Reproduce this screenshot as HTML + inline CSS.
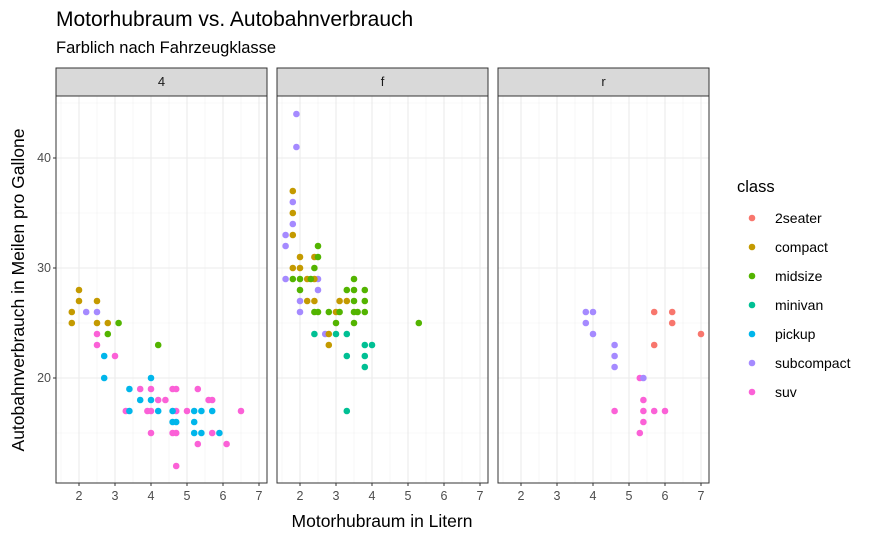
<!DOCTYPE html>
<html><head><meta charset="utf-8"><style>
body{margin:0;background:#fff;}
svg{font-family:"Liberation Sans",Arial,sans-serif;}
</style></head><body>
<svg id="chart" width="875" height="540" xmlns="http://www.w3.org/2000/svg">
<text x="56" y="26" font-size="21" fill="#000">Motorhubraum vs. Autobahnverbrauch</text>
<text x="56" y="53" font-size="16.5" fill="#000">Farblich nach Fahrzeugklasse</text>
<text x="382" y="527" font-size="17.5" text-anchor="middle" fill="#000">Motorhubraum in Litern</text>
<text transform="translate(24,290) rotate(-90)" font-size="17.5" text-anchor="middle" fill="#000">Autobahnverbrauch in Meilen pro Gallone</text>
<g id="panels"></g>
<g id="legend"></g>
</svg>
<script>
const panelNames = ["4","f","r"];
const classes = ["2seater","compact","midsize","minivan","pickup","subcompact","suv"];
const colors = ["#F8766D","#C49A00","#53B400","#00C094","#00B6EB","#A58AFF","#FB61D7"];
const xTicks = [2,3,4,5,6,7];
const yTicks = [20,30,40];
// panel 4
const displ4 = [2.0,2.0,2.5,1.8,2.5,2.8,1.8, 2.2,2.5, 3.1,2.8,4.2, 2.5,2.5,3.0,3.7,4.0,4.6,4.7,5.3,4.2,4.4,5.6,5.7,3.3,3.9,4.0,4.7,5.0,6.5,4.0,4.6,4.7,5.7,5.3,6.1,4.7, 2.7,2.7,4.0,3.4,3.7,4.0,3.4,4.2,4.6,5.2,5.4,5.7,4.6,4.7,5.2,5.2,5.4,5.9];
const hwy4 = [28,27,27,26,25,25,25, 26,26, 25,24,23, 24,23,22,19,19,19,19,19,18,18,18,18,17,17,17,17,17,17,15,15,15,15,14,14,12, 22,20,20,19,18,18,17,17,17,17,17,17,16,16,16,15,15,15];
const cls4 = ["compact","compact","compact","compact","compact","compact","compact","subcompact","subcompact","midsize","midsize","midsize","suv","suv","suv","suv","suv","suv","suv","suv","suv","suv","suv","suv","suv","suv","suv","suv","suv","suv","suv","suv","suv","suv","suv","suv","suv","pickup","pickup","pickup","pickup","pickup","pickup","pickup","pickup","pickup","pickup","pickup","pickup","pickup","pickup","pickup","pickup","pickup","pickup"];
// panel f
const displF = [1.9,1.9,1.8,1.8,1.6,1.6,1.6,2.5,2.5,2.0,2.0,2.7, 1.8,1.8,1.8,2.0,2.4,1.8,2.0,2.2,2.4,2.2,2.4,3.1,3.3,3.0,2.8,2.8, 2.5,2.5,2.4,1.8,2.0,2.3,3.5,2.0,3.3,3.5,3.8,3.5,3.8,2.4,2.5,2.8,3.1,3.5,3.6,3.8,3.0,3.5,5.3, 2.4,3.0,3.3,3.8,4.0,3.3,3.8,3.8,3.3];
const hwyF = [44,41,36,34,33,32,29,29,28,27,26,24, 37,35,33,31,31,30,30,29,29,27,27,27,27,26,24,23, 32,31,30,29,29,29,29,28,28,28,28,27,27,26,26,26,26,26,26,26,25,25,25, 24,24,24,23,23,22,22,21,17];
const clsF = ["subcompact","subcompact","subcompact","subcompact","subcompact","subcompact","subcompact","subcompact","subcompact","subcompact","subcompact","subcompact","compact","compact","compact","compact","compact","compact","compact","compact","compact","compact","compact","compact","compact","compact","compact","compact","midsize","midsize","midsize","midsize","midsize","midsize","midsize","midsize","midsize","midsize","midsize","midsize","midsize","midsize","midsize","midsize","midsize","midsize","midsize","midsize","midsize","midsize","midsize","minivan","minivan","minivan","minivan","minivan","minivan","minivan","minivan","minivan"];
// panel r
const displR = [5.7,6.2,6.2,7.0,5.7, 5.3,5.4,4.6,5.4,5.7,6.0,5.4,5.3, 3.8,4.0,3.8,4.0,4.6,4.6,4.6,5.4];
const hwyR = [26,26,25,24,23, 20,18,17,17,17,17,16,15, 26,26,25,24,23,22,21,20];
const clsR = ["2seater","2seater","2seater","2seater","2seater","suv","suv","suv","suv","suv","suv","suv","suv","subcompact","subcompact","subcompact","subcompact","subcompact","subcompact","subcompact","subcompact"];

const NS="http://www.w3.org/2000/svg";
const panelLeft=[56,277,498], pw=211, pTop=96, pBottom=483;
function xs(p,v){return panelLeft[p]+23+(v-2)*36;}
function ys(v){return 378-(v-20)*11;}
function mk(tag,attrs,parent){const e=document.createElementNS(NS,tag);for(const k in attrs)e.setAttribute(k,attrs[k]);parent.appendChild(e);return e;}
const G=document.getElementById('panels');
const data=[[displ4,hwy4,cls4],[displF,hwyF,clsF],[displR,hwyR,clsR]];
for(let p=0;p<3;p++){
  const g=mk('g',{},G);
  
  
  const L=panelLeft[p];
  for(let v=1.5;v<=7.5;v+=1){const x=xs(p,v);if(x>L&&x<L+pw){const l=mk('line',{x1:x,x2:x,y1:pTop,y2:pBottom,stroke:'#F2F2F2','stroke-width':0.6},g);
    
    }}
  for(const v of [15,25,35,45]){const l=mk('line',{x1:L,x2:L+pw,y1:ys(v),y2:ys(v),stroke:'#F2F2F2','stroke-width':0.6},g);
    
    }
  for(const v of xTicks){const x=xs(p,v);const l=mk('line',{x1:x,x2:x,y1:pTop,y2:pBottom,stroke:'#EBEBEB','stroke-width':1.1},g);
    
    
    const t=mk('text',{x:x,y:pBottom+17,'font-size':12.5,'text-anchor':'middle',fill:'#4D4D4D'},g);t.textContent=v;
    
    
    mk('line',{x1:x,x2:x,y1:pBottom,y2:pBottom+3,stroke:'#333'},g);}
  for(const v of yTicks){const l=mk('line',{x1:L,x2:L+pw,y1:ys(v),y2:ys(v),stroke:'#EBEBEB','stroke-width':1.1},g);
    
    
    if(p===0){const t=mk('text',{x:L-5,y:ys(v)+4,'font-size':12.5,'text-anchor':'end',fill:'#4D4D4D'},g);t.textContent=v;
    
    
    mk('line',{x1:L-3,x2:L,y1:ys(v),y2:ys(v),stroke:'#333'},g);}}
  const [dx,dy,dc]=data[p];
  for(let i=0;i<dx.length;i++){const c=mk('circle',{cx:xs(p,dx[i]),cy:ys(dy[i]),r:3.3,fill:colors[classes.indexOf(dc[i])]},g);
    
    }
  const b=mk('rect',{x:L,y:pTop,width:pw,height:pBottom-pTop,fill:'none',stroke:'#333','stroke-width':1},g);
  
  
  const s=mk('rect',{x:L,y:68,width:pw,height:28,fill:'#D9D9D9',stroke:'#333','stroke-width':1},g);
  
  
  const st=mk('text',{x:L+pw/2,y:86,'font-size':13,'text-anchor':'middle',fill:'#1A1A1A'},g);st.textContent=panelNames[p];
  
  
}
const LG=document.getElementById('legend');
const lt=mk('text',{x:737,y:192,'font-size':16.5,fill:'#000'},LG);lt.textContent='class';


classes.forEach((c,i)=>{const y=218+i*29;const g=mk('g',{},LG);
  
  
  mk('circle',{cx:752,cy:y,r:3.3,fill:colors[i]},g);
  const t=mk('text',{x:775,y:y+5,'font-size':14,fill:'#000'},g);t.textContent=c;});
</script>
</body></html>
